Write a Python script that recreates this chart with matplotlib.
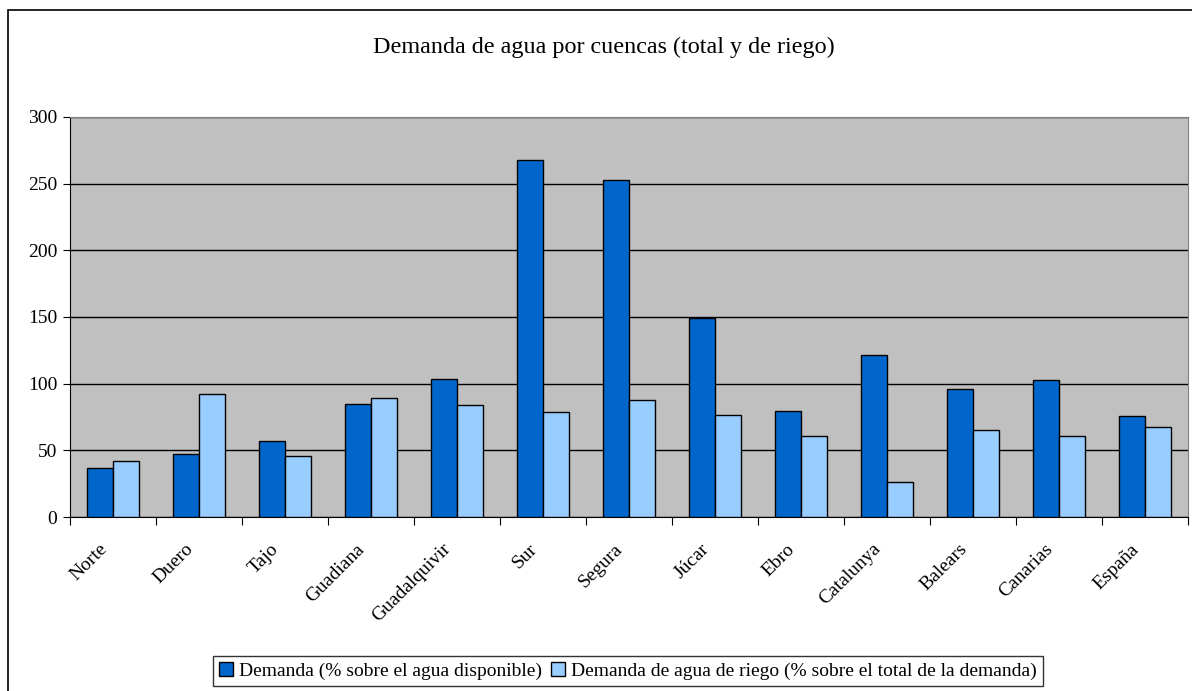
import matplotlib.pyplot as plt
import numpy as np
from matplotlib.patches import Rectangle

# Cuencas and values
cuencas = ["Norte", "Duero", "Tajo", "Guadiana", "Guadalquivir", "Sur", "Segura",
           "Júcar", "Ebro", "Catalunya", "Balears", "Canarias", "España"]
demanda = [36.5, 47, 57, 85, 103.5, 267.5, 252.5, 149, 79.5, 121.5, 96, 102.5, 75.5]
riego = [42, 92.5, 46, 89.5, 84, 78.5, 88, 76.5, 61, 26.5, 65.5, 61, 67.5]

plt.rcParams['font.family'] = ['Liberation Serif', 'DejaVu Serif']

fig = plt.figure(figsize=(11.92, 6.91), dpi=100)
ax = fig.add_axes([70 / 1192, 1 - 517 / 691, 1118 / 1192, 400 / 691])

# frame around the whole chart
fig.patches.append(Rectangle((8 / 1192, -0.05), 1.2, 1 - 10 / 691 + 0.05,
                             transform=fig.transFigure, fill=False,
                             edgecolor='black', linewidth=1.2))

x = np.arange(len(cuencas))
w = 0.30
ax.bar(x - w / 2, demanda, w, color='#0066CC', edgecolor='black', linewidth=1,
       label='Demanda (% sobre el agua disponible)', zorder=3)
ax.bar(x + w / 2, riego, w, color='#99CCFF', edgecolor='black', linewidth=1,
       label='Demanda de agua de riego (% sobre el total de la demanda)', zorder=3)

ax.set_facecolor('#C0C0C0')
ax.set_xlim(-0.5, len(cuencas) - 0.5)
ax.set_ylim(0, 300)
ax.set_yticks(range(0, 301, 50))
ax.yaxis.grid(True, color='black', linewidth=1)
ax.set_axisbelow(True)

# category separators as major ticks, labels on invisible minor ticks
ax.set_xticks(np.arange(len(cuencas) + 1) - 0.5)
ax.set_xticklabels([])
ax.set_xticks(x - 0.17, minor=True)
ax.set_xticklabels(cuencas, minor=True, rotation=45, ha='right',
                   rotation_mode='anchor', fontsize=14)
ax.tick_params(axis='x', which='minor', length=0, pad=17)
ax.tick_params(axis='x', which='major', length=6, direction='out')
ax.tick_params(axis='y', length=5, labelsize=14, pad=4)

for s in ['top', 'right']:
    ax.spines[s].set_color('#808080')
for s in ['left', 'bottom']:
    ax.spines[s].set_color('black')

fig.text(604 / 1192, 1 - 47 / 691, 'Demanda de agua por cuencas (total y de riego)',
         ha='center', va='center', fontsize=17.4)

leg = fig.legend(loc='center', bbox_to_anchor=(628 / 1192, 1 - 671 / 691), ncol=2,
                 fontsize=14, frameon=True, fancybox=False, edgecolor='black',
                 handlelength=0.7, handleheight=0.7, handletextpad=0.3,
                 columnspacing=0.5, borderpad=0.3)
leg.get_frame().set_linewidth(1)

fig.savefig('out.png', dpi=100, facecolor='white')
